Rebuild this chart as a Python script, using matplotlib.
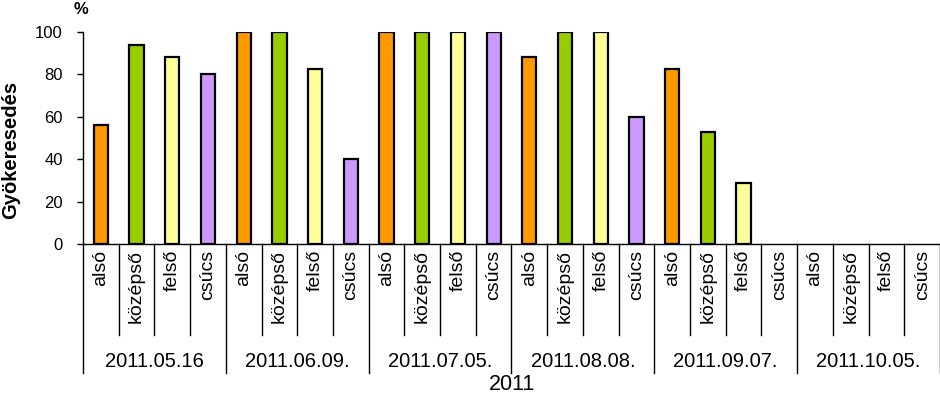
import matplotlib
matplotlib.use("Agg")
import matplotlib.pyplot as plt
import matplotlib.transforms as mtransforms

plt.rcParams["font.family"] = ["Liberation Sans", "DejaVu Sans"]

dates = ["2011.05.16", "2011.06.09.", "2011.07.05.", "2011.08.08.", "2011.09.07.", "2011.10.05."]
parts = ["alsó", "középső", "felső", "csúcs"]
part_colors = ["#FF9900", "#99CC00", "#FFFF99", "#CC99FF"]

# rooting percentage per date, order: alsó, középső, felső, csúcs
also = [56, 100, 100, 88, 82.5, 0]
kozepso = [94, 100, 100, 100, 53, 0]
felso = [88, 82.5, 100, 100, 29, 0]
csucs = [80, 40, 100, 60, 0, 0]
series = [also, kozepso, felso, csucs]

fig = plt.figure(figsize=(9.4, 3.97), dpi=100)
ax = fig.add_axes([83 / 940, (397 - 244) / 397, 857 / 940, 212 / 397])

n_parts = len(parts)
positions = []
labels = []
for g in range(len(dates)):
    for p in range(n_parts):
        x = g * n_parts + p
        positions.append(x)
        labels.append(parts[p])
        val = series[p][g]
        if val > 0:
            ax.bar(x, val, width=0.4, color=part_colors[p],
                   edgecolor="black", linewidth=1.6, zorder=3)

ax.set_xlim(-0.5, len(dates) * n_parts - 0.5)
ax.set_ylim(0, 100)
ax.set_yticks(range(0, 101, 20))
ax.tick_params(axis="y", direction="out", length=4.5, width=1, labelsize=12, pad=10)
ax.set_xticks(positions)
ax.set_xticklabels(labels, rotation=90, fontsize=14)
ax.tick_params(axis="x", length=0, pad=4)

for side in ["top", "right"]:
    ax.spines[side].set_visible(False)
ax.spines["left"].set_linewidth(1)
ax.spines["bottom"].set_linewidth(1)

# category dividers below the axis
trans = mtransforms.blended_transform_factory(ax.transData, ax.transAxes)
for k in range(len(dates) * n_parts + 1):
    x = k - 0.5
    depth = -0.61 if k % n_parts == 0 else -0.43
    ax.plot([x, x], [0, depth], color="black", linewidth=1,
            transform=trans, clip_on=False)

for g, d in enumerate(dates):
    ax.text(g * n_parts + (n_parts - 1) / 2, -0.552, d, transform=trans,
            ha="center", va="center", fontsize=14.5)

ax.text(0.5, -0.665, "2011", transform=ax.transAxes, ha="center",
        va="center", fontsize=15.5)
fig.text(11 / 940, 1 - 150 / 397, "Gyökeresedés", rotation=90,
         ha="center", va="center", fontsize=14.5, fontweight="bold")
fig.text(80.5 / 940, 1 - 10 / 397, "%", ha="center", va="center",
         fontsize=12, fontweight="bold")

fig.savefig("out.png", dpi=100)
